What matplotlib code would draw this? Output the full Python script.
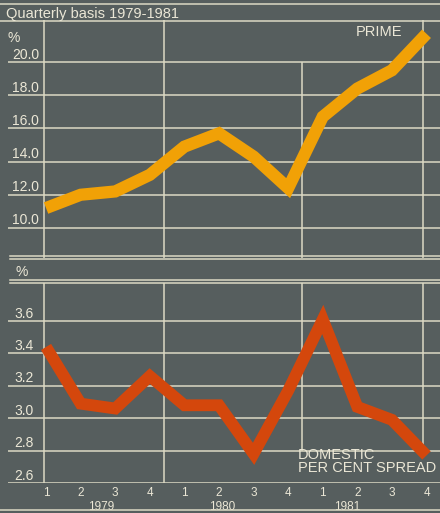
import matplotlib.pyplot as plt
from matplotlib.lines import Line2D

# Quarterly data 1979-1981
quarters = ["1", "2", "3", "4"] * 3
years = ["1979", "1980", "1981"]
prime = [11.2, 12.0, 12.2, 13.2, 14.9, 15.7, 14.3, 12.4, 16.7, 18.4, 19.5, 21.7]
spread = [3.44, 3.09, 3.06, 3.26, 3.08, 3.08, 2.78, 3.17, 3.61, 3.07, 2.99, 2.77]
prime_ticks = [10.0, 12.0, 14.0, 16.0, 18.0, 20.0]
spread_ticks = [2.6, 2.8, 3.0, 3.2, 3.4, 3.6]
year_pos = [1.6, 5.1, 8.7]          # where the year labels sit (quarter index)
separators = [-0.05, 3.4, 7.4, 10.9]  # vertical rules between years

BG = "#565e5e"
RULE = "#dcd9c4"
ORANGE = "#f1a106"
RED = "#d4470c"
TXT = "#ebe7d6"
FONT = "Liberation Sans"

W, H = 440, 513
fig = plt.figure(figsize=(4.4, 5.13), dpi=100)
fig.patch.set_facecolor(BG)
plt.rcParams["font.family"] = [FONT, "DejaVu Sans"]


# pixel box (top-left origin) -> figure fraction rect
def px(x0, y0, x1, y1):
    return [x0 / W, 1 - y1 / H, (x1 - x0) / W, (y1 - y0) / H]


def hrule(y, x0=0, x1=W, lw=1.1):
    fig.add_artist(Line2D([x0 / W, x1 / W], [1 - y / H, 1 - y / H],
                          color=RULE, lw=lw))


def ftext(x, y, s, **kw):
    kw.setdefault("color", TXT)
    kw.setdefault("fontsize", 10)
    fig.text(x / W, 1 - y / H, s, **kw)


x = list(range(len(prime)))
xlim = (-1.1, 11.39)

top = fig.add_axes(px(8, 20, 440, 258))
bot = fig.add_axes(px(8, 283, 440, 483))
for ax in (top, bot):
    ax.set_facecolor("none")
    ax.set_xlim(xlim)
    ax.axis("off")
top.set_ylim(8.19, 22.53)
bot.set_ylim(2.6, 3.835)

# header (title is cropped at the top edge, as in the source)
ftext(6, 3, "SPREAD", fontsize=12, fontweight="bold", va="bottom")
hrule(4)
ftext(6, 18, "Quarterly basis 1979-1981", fontsize=10.5, va="baseline")
hrule(20.5)

# top panel: prime rate
top.hlines(prime_ticks, xlim[0], xlim[1], color=RULE, lw=1.1, zorder=1)
for s in separators:
    y0 = top.get_ylim()[0]
    y1 = prime_ticks[-1] if s == separators[2] else top.get_ylim()[1]
    top.vlines(s, y0, y1, color=RULE, lw=1.1, zorder=1)
for v in prime_ticks:
    top.annotate(f"{v:.1f}", (-0.2, v), xytext=(0, 2.5), textcoords="offset points",
                 ha="right", va="baseline", color=TXT, fontsize=10)
ftext(8, 38, "%", va="center")
top.plot(x, prime, color=ORANGE, lw=8.8, solid_joinstyle="miter",
         solid_capstyle="butt", zorder=3)
ftext(402, 32, "PRIME", ha="right", va="center", fontsize=10.5)

# rules between panels
hrule(256, 10)
hrule(259, 10)
ftext(15, 272, "%", va="center")
hrule(280, 10)
hrule(283, 10)

# bottom panel: domestic per cent spread
bot.hlines(spread_ticks, xlim[0], xlim[1], color=RULE, lw=1.1, zorder=1)
for s in separators:
    y0 = spread_ticks[0] if s < separators[2] else spread_ticks[1]
    bot.vlines(s, y0, bot.get_ylim()[1], color=RULE, lw=1.1, zorder=1)
for v in spread_ticks:
    bot.annotate(f"{v:.1f}", (-0.35, v), xytext=(0, 2.5), textcoords="offset points",
                 ha="right", va="baseline", color=TXT, fontsize=10)
bot.plot(x, spread, color=RED, lw=8.5, solid_joinstyle="miter",
         solid_capstyle="butt", zorder=3)
ftext(298, 448, "DOMESTIC\nPER CENT SPREAD", ha="left", va="top",
      fontsize=10.5, linespacing=0.9)

# x axis labels
for i, q in zip(x, quarters):
    bot.annotate(q, (i, 2.6), xytext=(0, -3), textcoords="offset points",
                 ha="center", va="top", color=TXT, fontsize=8.5)
for p, yr in zip(year_pos, years):
    bot.annotate(yr, (p, 2.6), xytext=(0, -13), textcoords="offset points",
                 ha="center", va="top", color=TXT, fontsize=8.5)
hrule(510)

fig.savefig("out.png", dpi=100, facecolor=BG)
